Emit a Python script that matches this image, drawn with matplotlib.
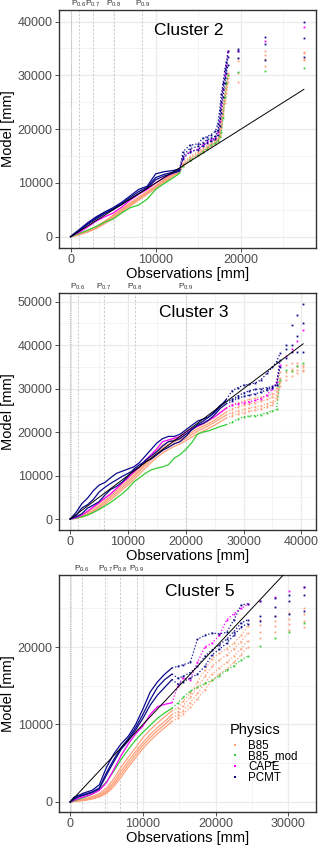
import matplotlib
matplotlib.use("Agg")
import matplotlib.pyplot as plt
import matplotlib.transforms as mtransforms
from matplotlib.lines import Line2D

plt.rcParams['font.family'] = ['Liberation Sans', 'DejaVu Sans']
plt.rcParams['mathtext.fontset'] = 'custom'
plt.rcParams['mathtext.rm'] = 'Liberation Sans'
plt.rcParams['mathtext.it'] = 'Liberation Sans:italic'

# ---------------- Cluster 2 ----------------
obs_c2 = [0, 500, 1000, 2000, 3000, 4000, 5000, 6000, 7000, 8000, 9000, 10000, 11000, 12000,
          12800, 13200, 14000, 15000, 15500, 16000, 16500, 17000, 17300, 17500, 17700, 17900,
          18100, 18300, 18500, 19700, 22800, 27400]
c2_pcmt = [
    [0, 700, 1300, 2600, 3700, 4600, 5400, 6400, 7600, 8800, 9400, 11700, 12100, 12300, 12600, 15800,
     17000, 17300, 18300, 18600, 19000, 19600, 21000, 23500, 26500, 28500, 31000, 32500, 34500, 34900, 37100, 40000],
    [0, 600, 1200, 2400, 3500, 4400, 5200, 6200, 7300, 8400, 9200, 11000, 11600, 12000, 12400, 15000,
     16400, 16800, 17500, 18000, 18300, 18700, 19800, 22000, 25000, 27500, 29500, 31500, 33500, 34600, 35900, 36900],
    [0, 550, 1100, 2300, 3300, 4300, 5100, 6000, 7000, 8000, 9000, 10600, 11300, 11800, 12200, 14500,
     15800, 16200, 16900, 17400, 17800, 18200, 19000, 20500, 23000, 26000, 28500, 30500, 32000, 33200, 32800, 33500],
]
c2_cape = [
    [0, 450, 800, 1800, 2900, 3700, 4400, 5500, 6800, 7900, 8800, 10000, 11000, 11800, 12400, 14700,
     15800, 16300, 17000, 17600, 18000, 18400, 19500, 21500, 24500, 27500, 30000, 32000, 34500, 34600, 36400, 39000],
]
c2_b85 = [
    [0, 250, 500, 1100, 1900, 2900, 4000, 5200, 6300, 7400, 8400, 9500, 10700, 11800, 12500, 13700,
     14900, 15800, 16400, 16900, 17400, 18000, 18400, 19500, 21500, 24000, 26500, 28500, 30500, 33200, 34600, 34400],
    [0, 200, 400, 900, 1600, 2600, 3600, 4800, 5900, 7000, 8000, 9200, 10300, 11400, 12200, 13400,
     14500, 15400, 16000, 16500, 17000, 17500, 18000, 19000, 20800, 23000, 25500, 27500, 29500, 32700, 33700, 34100],
    [0, 220, 450, 1000, 1800, 2700, 3800, 5000, 6100, 7100, 8200, 9400, 10500, 11600, 12300, 13500,
     14700, 15600, 16200, 16700, 17200, 17700, 18200, 19200, 21000, 23500, 26000, 28000, 30000, 30400, 33100, 33000],
    [0, 180, 380, 850, 1500, 2400, 3400, 4600, 5700, 6800, 7900, 9000, 10100, 11200, 12000, 13200,
     14300, 15200, 15800, 16300, 16800, 17300, 17800, 18700, 20300, 22500, 24800, 26800, 28800, 28800, 31800, 32900],
]
c2_b85_mod = [
    [0, 300, 600, 1200, 1900, 2700, 3300, 4400, 5400, 5900, 7000, 8800, 9900, 10900, 11800, 13200,
     14300, 15200, 15800, 16400, 17000, 17400, 17800, 18500, 19500, 22000, 26000, 28500, 30000, 30600, 30800, 31300],
]
pct_c2 = [940, 2640, 5120, 8440]

# ---------------- Cluster 3 ----------------
obs_c3 = [0, 1000, 2000, 3000, 4000, 5000, 6000, 7000, 8000, 9000, 10000, 11000, 12000, 13000, 14000,
          15000, 16000, 17000, 18000, 19000, 20000, 21000, 22000, 23000, 24000, 25000, 26000, 27000,
          28000, 29000, 30000, 31000, 32000, 33000, 34000, 35000, 35700, 36300, 37300, 38300, 39300, 40300]
c3_pcmt = [
    [0, 1500, 3500, 4800, 6500, 7800, 8400, 9500, 10500, 11000, 11500, 12000, 13000, 14500, 16000,
     17500, 18500, 19000, 19000, 19500, 20500, 21500, 22500, 23000, 23500, 24500, 26000, 27500,
     29500, 30200, 30800, 31000, 31300, 32000, 33500, 35000, 36200, 38100, 40000, 44600, 46900, 49500],
    [0, 800, 2500, 3300, 4500, 6200, 7300, 8200, 9000, 9800, 10500, 11200, 12000, 13500, 14500,
     15500, 16800, 17800, 18000, 18500, 19500, 20500, 21700, 22500, 23500, 24800, 26200, 27000,
     27500, 28300, 29000, 29500, 29800, 30000, 30200, 30500, 30900, 36600, 39000, 40000, 42000, 45000],
    [0, 500, 1200, 2500, 3200, 4000, 5500, 6800, 7500, 8500, 9800, 11500, 12500, 13200, 13800,
     14800, 15800, 16500, 17300, 17800, 19000, 20500, 21500, 22000, 22800, 24000, 25500, 26500,
     27200, 27800, 28200, 28500, 28800, 29200, 29700, 30200, 30800, 35000, 37000, 38500, 38400, 38500],
]
c3_cape = [
    [0, 300, 900, 1800, 2800, 3800, 4800, 5800, 7000, 8300, 9500, 10800, 12000, 13500, 14800,
     16200, 17800, 18200, 18600, 19000, 20000, 20800, 21300, 22000, 22800, 23500, 24500, 25500,
     26300, 26500, 26800, 27000, 27300, 27700, 28500, 30000, 31600, 35500, 37500, 39000, 41000, 43500],
]
c3_b85 = [
    [0, 300, 800, 1500, 2500, 3500, 4800, 5800, 7000, 8200, 9300, 10500, 11800, 13200, 14500,
     15800, 17000, 17800, 18300, 18800, 19500, 20500, 21200, 21800, 22600, 23500, 24500, 25500,
     26300, 26800, 27200, 27500, 27800, 28000, 28300, 28800, 30000, 33800, 35400, 36000, 35800, 35500],
    [0, 250, 600, 1200, 2000, 3000, 4200, 5300, 6500, 7700, 8800, 10000, 11300, 12700, 14000,
     15200, 16300, 17200, 17800, 18300, 19000, 19900, 20700, 21300, 22000, 22800, 23700, 24600,
     25300, 25800, 26200, 26500, 26800, 27100, 27500, 28000, 29200, 32500, 33800, 34500, 35200, 35000],
    [0, 200, 500, 1000, 1800, 2700, 3800, 4900, 6000, 7200, 8300, 9600, 11000, 12300, 13600,
     14800, 15800, 16600, 17300, 17800, 18500, 19400, 20200, 20800, 21500, 22300, 23100, 23900,
     24500, 24900, 25200, 25500, 25800, 26100, 26500, 27000, 28200, 31500, 33000, 34000, 34300, 34300],
    [0, 150, 400, 900, 1600, 2400, 3400, 4400, 5500, 6700, 7800, 9000, 10400, 11700, 13000,
     14200, 15200, 16000, 16700, 17300, 18000, 18800, 19600, 20200, 20900, 21600, 22400, 23200,
     23800, 24200, 24500, 24800, 25100, 25400, 25800, 26300, 27500, 30500, 32000, 33000, 33500, 34000],
]
c3_b85_mod = [
    [0, 200, 500, 900, 1500, 2200, 3000, 3800, 4800, 5800, 7000, 8500, 9500, 10500, 11300,
     11700, 12000, 12500, 14000, 14800, 16000, 17500, 19500, 20000, 20300, 20800, 21300, 21700,
     22300, 23000, 23500, 23700, 23800, 24000, 24500, 24900, 25200, 32000, 34300, 34000, 35200, 35800],
]
pct_c3 = [1280, 5780, 11250, 19970]

# ---------------- Cluster 5 ----------------
obs_c5 = [0, 500, 1000, 2000, 3000, 4000, 5000, 6000, 7000, 8000, 9000, 10000, 11000, 12000, 13000,
          14000, 14800, 15500, 16500, 17500, 18500, 19500, 20500, 21500, 22500, 23500, 24400, 26100,
          28200, 30100, 32200]
c5_pcmt = [
    [0, 600, 800, 1200, 1500, 2200, 4500, 6200, 7500, 8500, 10000, 12000, 14200, 15500, 16500,
     17300, 17500, 17700, 18000, 21000, 21500, 21800, 21700, 21900, 23500, 25400, 25600, 25900, 26300, 26700, 27800],
    [0, 400, 700, 1000, 1300, 1800, 3800, 5500, 7000, 8200, 9600, 11300, 13200, 14800, 15800,
     16500, 16000, 16200, 16700, 17500, 18800, 19600, 20300, 21000, 22000, 23100, 23500, 24000, 25200, 26000, 26700],
    [0, 300, 600, 900, 1200, 1700, 3500, 5200, 6800, 7900, 9300, 10800, 12500, 13800, 14800,
     15800, 15200, 15500, 16000, 16500, 17500, 19000, 19700, 20500, 21500, 22600, 23000, 23300, 24000, 24300, 24700],
]
c5_cape = [
    [0, 200, 400, 700, 1000, 1500, 2500, 4200, 6000, 7500, 8800, 9800, 11300, 12300, 12600,
     12800, 15000, 16000, 15800, 18000, 20000, 20500, 21500, 23500, 24300, 25000, 25500, 26000, 26500, 27200, 27800],
]
c5_b85 = [
    [0, 100, 200, 400, 700, 1100, 1800, 3000, 4500, 5800, 7000, 8300, 9300, 10200, 11000,
     11800, 12100, 13000, 14000, 15500, 17000, 18500, 19200, 19800, 20500, 21500, 22700, 23500, 24000, 24400, 25000],
    [0, 80, 150, 300, 550, 900, 1500, 2600, 4000, 5300, 6500, 7700, 8700, 9600, 10400,
     11300, 11600, 12400, 13500, 14800, 16200, 17500, 18300, 19000, 19800, 20700, 21800, 22800, 23300, 23600, 24300],
    [0, 60, 120, 250, 450, 750, 1300, 2300, 3600, 4900, 6100, 7300, 8300, 9200, 10000,
     10900, 11200, 11800, 12800, 14000, 15300, 16500, 17300, 18000, 18800, 19800, 20800, 22000, 22700, 23000, 23400],
    [0, 50, 100, 200, 380, 650, 1100, 2000, 3200, 4500, 5700, 6900, 7900, 8800, 9600,
     10400, 10800, 11300, 12200, 13300, 14500, 15700, 16500, 17200, 18000, 19000, 20000, 21200, 22000, 22200, 22600],
]
c5_b85_mod = [
    [0, 150, 300, 600, 1000, 1600, 2600, 4000, 5500, 6800, 8000, 9000, 9900, 10800, 11500,
     12100, 12800, 13500, 14300, 14800, 15300, 15700, 16300, 17000, 17600, 18300, 18800, 20100, 21200, 22000, 23100],
]
pct_c5 = [1610, 4820, 6880, 9130]

low_pct = [0, 40, 90]
pct_labels = ["P$_{0.6}$", "P$_{0.7}$", "P$_{0.8}$", "P$_{0.9}$"]
physics = ["B85", "B85_mod", "CAPE", "PCMT"]
colors = {"B85": "#FFA07A", "B85_mod": "#33CC33", "CAPE": "#FF00FF", "PCMT": "#0A0A8C"}

panels = [
    dict(name="Cluster 2", obs=obs_c2, runs={"B85": c2_b85, "B85_mod": c2_b85_mod, "CAPE": c2_cape, "PCMT": c2_pcmt},
         pct=pct_c2, solid_end=14, dot_end=28, rect=[0.184, 0.7075, 0.803, 0.2807],
         xlim=(-1370, 28800), ylim=(-2100, 42150), title_pos=(0.506, 0.916)),
    dict(name="Cluster 3", obs=obs_c3, runs={"B85": c3_b85, "B85_mod": c3_b85_mod, "CAPE": c3_cape, "PCMT": c3_pcmt},
         pct=pct_c3, solid_end=27, dot_end=37, rect=[0.184, 0.375, 0.803, 0.2795],
         xlim=(-1960, 42500), ylim=(-2530, 52000), title_pos=(0.525, 0.918)),
    dict(name="Cluster 5", obs=obs_c5, runs={"B85": c5_b85, "B85_mod": c5_b85_mod, "CAPE": c5_cape, "PCMT": c5_pcmt},
         pct=pct_c5, solid_end=15, dot_end=26, rect=[0.184, 0.0425, 0.803, 0.2795],
         xlim=(-1555, 33770), ylim=(-1290, 29300), title_pos=(0.549, 0.93)),
]

fig = plt.figure(figsize=(3.2, 8.48), dpi=100)

for p in panels:
    ax = fig.add_axes(p["rect"])
    x = p["obs"]
    s, d = p["solid_end"], p["dot_end"]
    for phys in physics:
        c = colors[phys]
        for y in p["runs"][phys]:
            ax.plot(x[:s + 1], y[:s + 1], color=c, lw=0.9, zorder=3)
            ax.plot(x[s:d + 1], y[s:d + 1], color=c, lw=0.9, ls=(0, (1, 1.6)), zorder=3)
            ax.plot(x[s + 1:], y[s + 1:], ls="none", marker="s", ms=1.3, mew=0, color=c, zorder=3)
    # 1:1 line
    ax.plot(x, x, color="black", lw=0.7, zorder=4)

    # percentile lines
    trans = mtransforms.blended_transform_factory(ax.transData, ax.transAxes)
    for v in low_pct:
        ax.axvline(v, color="#C4C4C4", lw=0.5, ls=(0, (1.5, 1.5)), zorder=1)
    for v, lab in zip(p["pct"], pct_labels):
        ax.axvline(v, color="#C4C4C4", lw=0.6, ls=(0, (2.5, 2)), zorder=1)
        ax.text(v, 1.004, lab, transform=trans, ha="center", va="bottom", fontsize=6, color="#333333")

    ax.set_xlim(*p["xlim"])
    ax.set_ylim(*p["ylim"])
    xmax = int(p["xlim"][1])
    ymax = int(p["ylim"][1])
    ax.set_xticks(list(range(0, xmax, 10000)))
    ax.set_yticks(list(range(0, ymax, 10000)))
    ax.set_xticks(list(range(5000, xmax, 10000)), minor=True)
    ax.set_yticks(list(range(5000, ymax, 10000)), minor=True)
    ax.set_axisbelow(True)
    ax.grid(which="major", color="#EBEBEB", lw=0.9)
    ax.grid(which="minor", color="#F3F3F3", lw=0.6)
    ax.tick_params(which="major", labelsize=9, labelcolor="#4D4D4D", color="#333333", length=3, width=0.6, pad=1.5)
    ax.tick_params(which="minor", length=0)
    for sp in ax.spines.values():
        sp.set_color("#333333")
        sp.set_linewidth(1.0)

    ax.set_xlabel("Observations [mm]", fontsize=10.5)
    ax.set_ylabel("Model [mm]", fontsize=10.5)
    ax.xaxis.set_label_coords(0.5, -0.08)
    ax.yaxis.set_label_coords(-0.17, 0.5)

    ax.text(p["title_pos"][0], p["title_pos"][1], p["name"], transform=ax.transAxes,
            ha="center", va="center", fontsize=12.5, color="black")

    if p["name"] == "Cluster 5":
        ax.text(0.665, 0.346, "Physics", transform=ax.transAxes, ha="left", va="center", fontsize=10.5)
        handles = [Line2D([], [], ls="none", marker="s", ms=1.8, mew=0, color=colors[k], label=k) for k in physics]
        ax.legend(handles=handles, loc="upper left", bbox_to_anchor=(0.669, 0.305), frameon=False,
                  fontsize=8.3, handlelength=0.8, handletextpad=0.7,
                  labelspacing=-0.1, borderpad=0, borderaxespad=0)

fig.savefig("out.png", dpi=100)
